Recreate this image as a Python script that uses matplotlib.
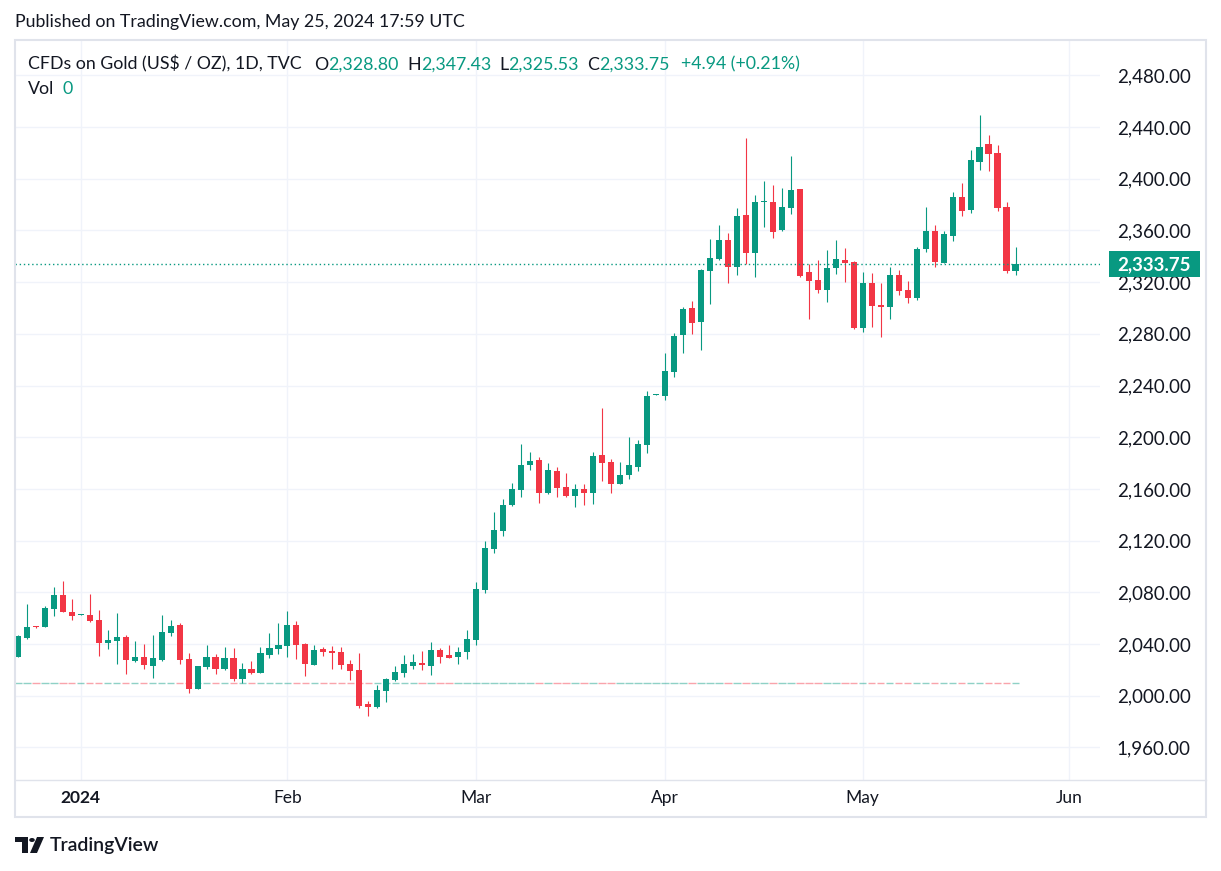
import matplotlib
matplotlib.use("Agg")
import matplotlib.pyplot as plt
from matplotlib.patches import Rectangle, Circle, Polygon
from matplotlib.lines import Line2D
from matplotlib.colors import to_rgba
import numpy as np

plt.rcParams['font.family'] = ['Lato', 'DejaVu Sans']

# daily OHLC, TVC gold CFD, late Dec 2023 -> May 24 2024
opens = [2030.2, 2044.9, 2053.6, 2053.4, 2067.3, 2077.9, 2064.8, 2062.4, 2062.4, 2058.6,
         2041.0, 2042.6, 2045.4, 2027.1, 2029.9, 2023.2, 2027.6, 2048.7, 2054.7, 2028.4,
         2005.4, 2022.4, 2029.9, 2020.7, 2029.2, 2013.2, 2020.7, 2017.8, 2031.5, 2036.1,
         2038.7, 2054.7, 2040.0, 2024.0, 2036.1, 2034.6, 2033.8, 2024.5, 2019.9, 1993.6,
         1991.5, 2003.9, 2012.4, 2017.8, 2023.2, 2025.3, 2023.2, 2035.4, 2031.5, 2030.2,
         2034.0, 2043.3, 2081.8, 2113.5, 2127.4, 2147.5, 2159.1, 2178.5, 2182.4, 2156.8,
         2173.8, 2161.5, 2154.7, 2159.9, 2157.1, 2186.2, 2180.8, 2164.0, 2170.8, 2177.2,
         2194.0, 2232.6, 2232.1, 2250.7, 2279.1, 2300.0, 2289.4, 2328.6, 2338.1, 2352.6,
         2331.9, 2371.9, 2342.7, 2381.6, 2382.0, 2360.6, 2377.6, 2391.7, 2327.7, 2321.6,
         2313.9, 2331.2, 2337.1, 2335.5, 2284.7, 2319.3, 2302.5, 2301.0, 2325.5, 2313.9,
         2307.9, 2345.8, 2359.5, 2335.0, 2355.9, 2385.9, 2375.7, 2413.2, 2426.8, 2419.9,
         2378.3, 2328.80]
highs = [2047.0, 2070.9, 2054.0, 2069.4, 2084.1, 2088.7, 2074.6, 2063.2, 2078.7, 2066.3,
         2050.8, 2064.0, 2047.0, 2042.3, 2040.0, 2047.0, 2062.4, 2058.6, 2056.2, 2033.0,
         2023.3, 2039.2, 2032.3, 2037.7, 2036.9, 2025.3, 2026.8, 2037.7, 2048.5, 2056.2,
         2065.5, 2057.8, 2040.5, 2039.2, 2037.5, 2038.5, 2037.7, 2027.6, 2033.0, 1995.9,
         2008.3, 2013.5, 2023.0, 2031.5, 2032.3, 2034.8, 2041.5, 2036.9, 2039.2, 2037.7,
         2050.8, 2088.0, 2119.7, 2142.1, 2152.2, 2164.6, 2194.7, 2188.5, 2184.7, 2180.0,
         2176.9, 2172.3, 2163.8, 2163.8, 2188.5, 2222.6, 2183.0, 2180.8, 2200.2, 2197.8,
         2235.7, 2233.6, 2265.1, 2280.6, 2300.7, 2305.4, 2330.2, 2353.3, 2364.1, 2358.3,
         2377.3, 2431.5, 2387.4, 2398.2, 2395.1, 2392.8, 2417.6, 2392.2, 2333.9, 2337.0,
         2344.8, 2352.6, 2346.4, 2336.3, 2327.7, 2327.0, 2319.0, 2331.7, 2329.4, 2320.8,
         2347.2, 2378.1, 2364.2, 2359.5, 2389.7, 2396.7, 2422.2, 2449.3, 2433.8, 2426.1,
         2382.2, 2347.43]
lows = [2029.8, 2044.2, 2052.6, 2053.0, 2061.9, 2064.6, 2058.6, 2062.2, 2057.0, 2030.7,
        2036.4, 2024.8, 2017.0, 2026.3, 2020.9, 2013.9, 2027.2, 2046.4, 2024.5, 2002.3,
        2005.0, 2020.7, 2017.0, 2019.9, 2011.6, 2010.1, 2016.6, 2017.3, 2029.2, 2032.3,
        2029.9, 2028.4, 2015.5, 2023.5, 2030.7, 2020.7, 2020.7, 2012.4, 1990.7, 1984.5,
        1990.7, 1995.3, 2011.6, 2014.7, 2020.9, 2020.1, 2016.2, 2025.6, 2029.0, 2024.8,
        2028.4, 2039.5, 2079.5, 2110.6, 2123.6, 2146.8, 2154.0, 2174.6, 2149.3, 2156.1,
        2153.6, 2154.0, 2146.2, 2147.8, 2148.7, 2166.3, 2157.1, 2163.5, 2167.9, 2174.1,
        2187.8, 2232.3, 2228.8, 2246.8, 2265.4, 2280.1, 2267.7, 2303.3, 2337.3, 2319.5,
        2325.7, 2334.2, 2324.2, 2362.9, 2354.4, 2359.5, 2372.9, 2324.2, 2291.7, 2311.6,
        2304.9, 2326.5, 2320.1, 2284.0, 2281.6, 2285.5, 2277.8, 2291.7, 2309.8, 2304.1,
        2306.4, 2343.5, 2331.9, 2334.5, 2352.0, 2371.4, 2373.7, 2407.0, 2406.2, 2375.0,
        2327.3, 2325.53]
closes = [2046.2, 2053.2, 2053.0, 2067.9, 2077.9, 2065.0, 2061.9, 2063.0, 2058.0, 2041.0,
          2043.1, 2045.4, 2027.9, 2029.7, 2024.0, 2029.2, 2049.3, 2053.9, 2027.6, 2005.4,
          2023.0, 2029.9, 2020.7, 2029.2, 2013.2, 2020.7, 2017.8, 2033.0, 2036.9, 2039.2,
          2054.7, 2039.5, 2024.8, 2035.4, 2033.8, 2033.3, 2024.0, 2019.3, 1992.0, 1991.5,
          2004.4, 2012.9, 2018.3, 2024.5, 2026.1, 2024.0, 2035.4, 2030.2, 2029.4, 2033.8,
          2043.9, 2082.6, 2114.3, 2128.2, 2147.5, 2159.9, 2178.5, 2181.6, 2156.8, 2174.6,
          2160.7, 2154.5, 2159.9, 2157.1, 2185.5, 2180.3, 2164.0, 2170.8, 2178.5, 2194.7,
          2231.9, 2233.2, 2251.2, 2278.3, 2299.2, 2288.6, 2329.4, 2338.6, 2352.6, 2331.9,
          2371.1, 2342.7, 2382.0, 2382.0, 2359.0, 2378.2, 2390.9, 2324.7, 2321.0, 2313.9,
          2330.9, 2337.9, 2335.0, 2284.5, 2319.3, 2301.7, 2301.0, 2325.5, 2313.3, 2307.9,
          2345.6, 2359.5, 2335.8, 2357.2, 2385.9, 2375.2, 2414.5, 2424.5, 2419.3, 2377.3,
          2328.8, 2333.75]

month_pos = [7, 30, 51, 72, 94, 117]
month_labels = ["2024", "Feb", "Mar", "Apr", "May", "Jun"]
price_ticks = list(range(1960, 2481, 40))
last_price = 2333.75
legend_values = [("O", "2,328.80"), ("H", "2,347.43"), ("L", "2,325.53"), ("C", "2,333.75")]
change_text = "+4.94 (+0.21%)"

GREEN = "#089981"
RED = "#F23645"
TEXT = "#131722"
GRID = "#F0F3FA"
BORDER = "#E0E3EB"
FS = 12.8      # header / legend text
AXFS = 13.5    # price scale labels

W, H = 1221, 871
fig = plt.figure(figsize=(W / 100, H / 100), dpi=100)
fig.patch.set_facecolor("white")


def fx(px):
    return px / W


def fy(py):
    return 1 - py / H


ax = fig.add_axes([fx(15), fy(780), fx(1100) - fx(15), fy(40) - fy(780)])
ax.set_xlim(-0.31, 120.4)
ax.set_ylim(1934.8, 2507.3)

o = np.array(opens)
c = np.array(closes)
hi = np.array(highs)
lo = np.array(lows)
x = np.arange(len(o))
up = c >= o
cols = np.where(up, GREEN, RED)

# wicks + bodies
ax.vlines(x, lo, hi, colors=cols, lw=0.8, zorder=3)
body_lo = np.minimum(o, c)
body_h = np.maximum(np.abs(c - o), 0.8)
ax.bar(x, body_h, bottom=body_lo, width=0.68, color=cols, lw=0, zorder=4)

# zero-volume overlay (flat dashes)
vcols = [to_rgba(GREEN if u else RED, 0.45) for u in up]
ax.hlines(np.full(len(x), 0.131), x - 0.42, x + 0.42, colors=vcols, lw=1,
          transform=ax.get_xaxis_transform(), zorder=2)

# last price dotted line
ax.axhline(last_price, color=GREEN, lw=1, ls=(0, (1, 2)), zorder=5)

# axes styling
ax.yaxis.tick_right()
ax.set_yticks(price_ticks)
ax.set_yticklabels([f"{p:,.2f}" for p in price_ticks])
ax.set_xticks(month_pos)
ax.set_xticklabels(month_labels)
ax.get_xticklabels()[0].set_fontweight("bold")
ax.tick_params(axis="y", length=0, pad=12, labelsize=AXFS, labelcolor=TEXT)
ax.tick_params(axis="x", length=0, pad=7, labelsize=12.5, labelcolor=TEXT)
ax.grid(True, color=GRID, lw=1)
ax.set_axisbelow(True)
for s in ax.spines.values():
    s.set_visible(False)

# price tag on the axis
ppu = 740 / (2507.3 - 1934.8)
box_h = 26 / ppu
tag = Rectangle((1.0083, last_price - box_h / 2), 0.0839, box_h, transform=ax.get_yaxis_transform(),
                facecolor=GREEN, edgecolor="none", clip_on=False, zorder=10)
ax.add_patch(tag)
ax.text(1.0502, last_price, f"{last_price:,.2f}", transform=ax.get_yaxis_transform(),
        ha="center", va="center", color="white", fontsize=AXFS, fontweight="bold", zorder=11, clip_on=False)

# chart frame
fig.add_artist(Rectangle((fx(15), fy(817)), fx(1206) - fx(15), fy(40) - fy(817), fill=False,
                         edgecolor=BORDER, lw=1.5, transform=fig.transFigure))
fig.add_artist(Line2D([fx(15), fx(1206)], [fy(780), fy(780)], color=BORDER, lw=1,
                      transform=fig.transFigure))

# header
fig.text(fx(15), fy(22), "Published on TradingView.com, May 25, 2024 17:59 UTC",
         va="center", ha="left", fontsize=FS, color=TEXT)

# legend line
prev = fig.text(fx(28), fy(64), "CFDs on Gold (US$ / OZ), 1D, TVC", va="center", ha="left",
                fontsize=FS, color=TEXT)
gap = 9
for key, val in legend_values:
    prev = ax.annotate(key, xy=(1, 0), xycoords=prev, xytext=(gap, 0), textcoords="offset points",
                       va="bottom", ha="left", fontsize=FS, color=TEXT, annotation_clip=False)
    prev = ax.annotate(val, xy=(1, 0), xycoords=prev, xytext=(0, 0), textcoords="offset points",
                       va="bottom", ha="left", fontsize=FS, color=GREEN, annotation_clip=False)
    gap = 6
ax.annotate(change_text, xy=(1, 0), xycoords=prev, xytext=(8, 0), textcoords="offset points",
            va="bottom", ha="left", fontsize=FS, color=GREEN, annotation_clip=False)

vol = fig.text(fx(28), fy(89), "Vol", va="center", ha="left", fontsize=FS, color=TEXT)
ax.annotate("0", xy=(1, 0), xycoords=vol, xytext=(6, 0), textcoords="offset points",
            va="bottom", ha="left", fontsize=FS, color=GREEN, annotation_clip=False)

# TradingView logo + wordmark
fig.add_artist(Rectangle((fx(15), fy(842)), fx(28) - fx(15), fy(837) - fy(842),
                         transform=fig.transFigure, color=TEXT, lw=0))
fig.add_artist(Rectangle((fx(22), fy(853)), fx(28) - fx(22), fy(837) - fy(853),
                         transform=fig.transFigure, color=TEXT, lw=0))
fig.add_artist(Circle((fx(32), fy(840)), 2.8 / W, transform=fig.transFigure, color=TEXT, lw=0))
fig.add_artist(Polygon([(fx(37), fy(837)), (fx(44), fy(837)), (fx(37), fy(853)), (fx(30), fy(853))],
                       closed=True, transform=fig.transFigure, color=TEXT, lw=0))
fig.text(fx(50), fy(845), "TradingView", va="center", ha="left", fontsize=14, color=TEXT,
         fontweight="semibold")

fig.savefig("out.png", dpi=100, facecolor="white")
